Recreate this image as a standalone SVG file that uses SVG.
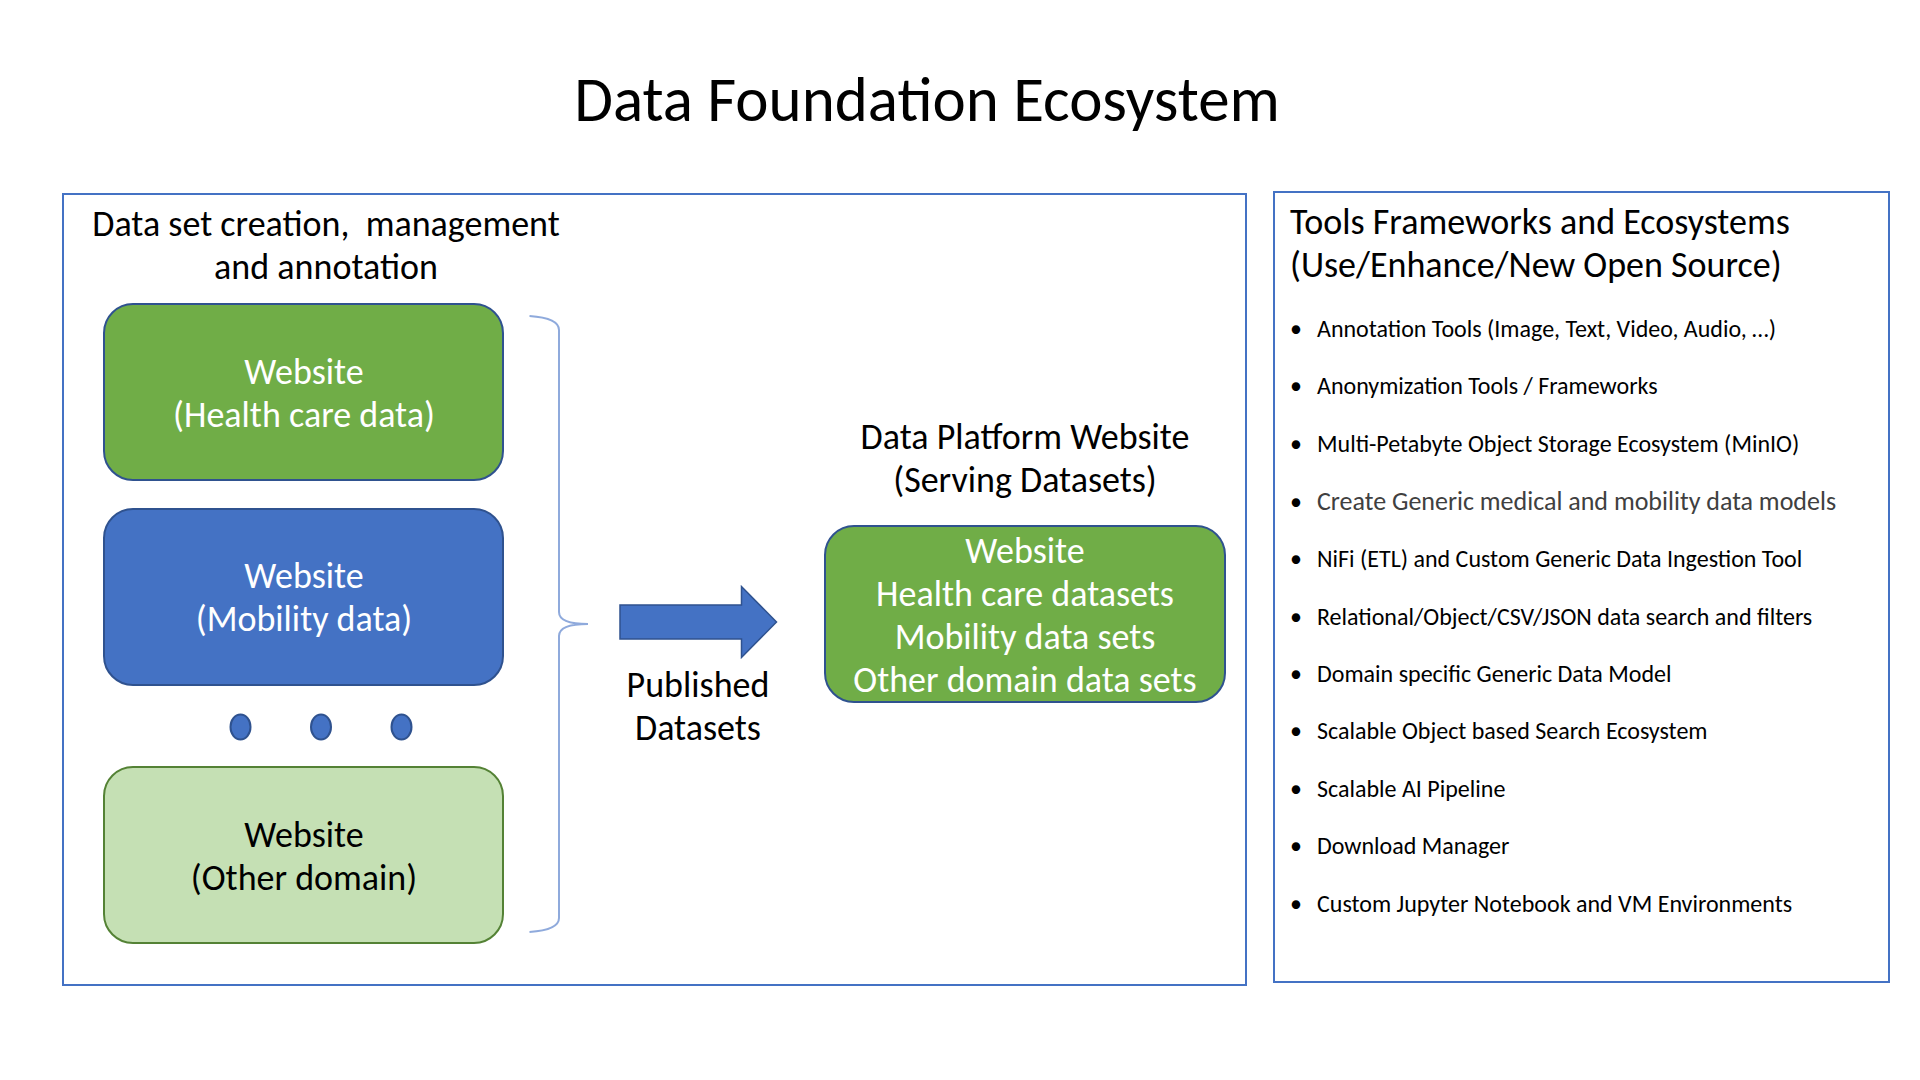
<svg xmlns="http://www.w3.org/2000/svg" width="1920" height="1080" viewBox="0 0 1920 1080">
<defs>
<style>
text { font-family: Carlito, Lato, "Liberation Sans", sans-serif; fill: #000; }
.title { font-size: 63px; text-anchor: middle; font-weight: 300; }
.hdr { font-size: 36px; }
.mid { text-anchor: middle; }
.panel { fill: #fff; stroke: #4472C4; stroke-width: 2; }
.green { fill: #70AD47; stroke: #2F528F; stroke-width: 2; }
.blue { fill: #4472C4; stroke: #2F528F; stroke-width: 2; }
.light { fill: #C5E0B4; stroke: #548235; stroke-width: 2; }
.wt { fill: #fff; font-size: 36px; text-anchor: middle; }
.bt { fill: #000; font-size: 36px; text-anchor: middle; }
.li { font-size: 24px; }
.dot { font-size: 24px; }
</style>
</defs>
<rect width="1920" height="1080" fill="#fff"/>
<g id="title"><text class="title" x="927" y="121">Data Foundation Ecosystem</text></g>

<g id="left-panel">
<rect class="panel" x="63" y="194" width="1183" height="791"/>
<text class="hdr mid" x="326" y="236">Data set creation,&#160; management</text>
<text class="hdr mid" x="326" y="279">and annotation</text>
</g>

<g id="node-health">
<rect class="green" x="104" y="304" width="399" height="176" rx="29"/>
<text class="wt" x="304" y="384">Website</text>
<text class="wt" x="304" y="427">(Health care data)</text>
</g>
<g id="node-mobility">
<rect class="blue" x="104" y="509" width="399" height="176" rx="29"/>
<text class="wt" x="304" y="588">Website</text>
<text class="wt" x="304" y="631">(Mobility data)</text>
</g>
<g id="dots">
<ellipse class="blue" cx="240.5" cy="727" rx="10" ry="12.5"/>
<ellipse class="blue" cx="321" cy="727" rx="10" ry="12.5"/>
<ellipse class="blue" cx="401.5" cy="727" rx="10" ry="12.5"/>
</g>
<g id="node-other">
<rect class="light" x="104" y="767" width="399" height="176" rx="29"/>
<text class="bt" x="304" y="847">Website</text>
<text class="bt" x="304" y="890">(Other domain)</text>
</g>

<g id="connectors">
<path d="M529.5,316 Q559,318 559,330 L559,612 Q559,624 588,624 Q559,624 559,636 L559,918 Q559,930 529.5,932" fill="none" stroke="#8FAADC" stroke-width="2"/>
<path d="M620,605 L741.5,605 L741.5,586.5 L776.5,622 L741.5,657.5 L741.5,639 L620,639 Z" fill="#4472C4" stroke="#2F528F" stroke-width="1.5"/>
<text class="hdr mid" x="698" y="697">Published</text>
<text class="hdr mid" x="698" y="740">Datasets</text>
</g>

<g id="node-platform">
<text class="hdr mid" x="1025" y="449">Data Platform Website</text>
<text class="hdr mid" x="1025" y="492">(Serving Datasets)</text>
<rect class="green" x="825" y="526" width="400" height="176" rx="29"/>
<text class="wt" x="1025" y="563">Website</text>
<text class="wt" x="1025" y="606">Health care datasets</text>
<text class="wt" x="1025" y="649">Mobility data sets</text>
<text class="wt" x="1025" y="692">Other domain data sets</text>
</g>

<g id="right-panel">
<rect class="panel" x="1274" y="192" width="615" height="790"/>
<text class="hdr" x="1290" y="234">Tools Frameworks and Ecosystems</text>
<text class="hdr" x="1290" y="277">(Use/Enhance/New Open Source)</text>
<g class="li">
<text class="dot" x="1290" y="337">•</text><text class="li" x="1317" y="337">Annotation Tools (Image, Text, Video, Audio, …)</text>
<text class="dot" x="1290" y="394">•</text><text class="li" x="1317" y="394">Anonymization Tools / Frameworks</text>
<text class="dot" x="1290" y="452">•</text><text class="li" x="1317" y="452">Multi-Petabyte Object Storage Ecosystem (MinIO)</text>
<text class="dot" x="1290" y="509.5">•</text><text x="1317" y="510" style="font-size:26px;fill:#404040">Create Generic medical and mobility data models</text>
<text class="dot" x="1290" y="567">•</text><text class="li" x="1317" y="567">NiFi (ETL) and Custom Generic Data Ingestion Tool</text>
<text class="dot" x="1290" y="624.5">•</text><text class="li" x="1317" y="624.5">Relational/Object/CSV/JSON data search and filters</text>
<text class="dot" x="1290" y="682">•</text><text class="li" x="1317" y="682">Domain specific Generic Data Model</text>
<text class="dot" x="1290" y="739">•</text><text class="li" x="1317" y="739">Scalable Object based Search Ecosystem</text>
<text class="dot" x="1290" y="797">•</text><text class="li" x="1317" y="797">Scalable AI Pipeline</text>
<text class="dot" x="1290" y="854">•</text><text class="li" x="1317" y="854">Download Manager</text>
<text class="dot" x="1290" y="912">•</text><text class="li" x="1317" y="912">Custom Jupyter Notebook and VM Environments</text>
</g>
</g>
</svg>
